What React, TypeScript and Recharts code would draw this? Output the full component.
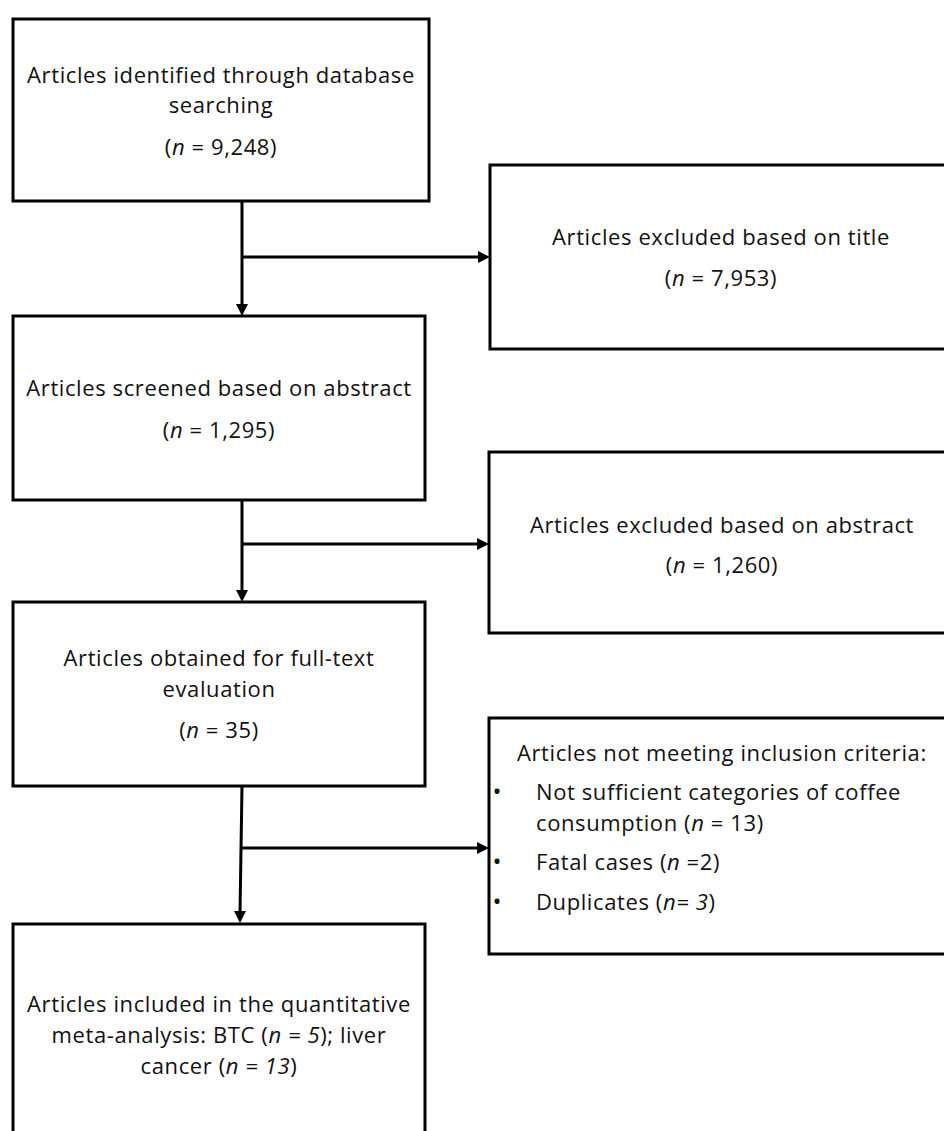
import { ComposedChart, XAxis, YAxis, Scatter, ReferenceArea, ReferenceLine } from 'recharts';

// flowchart laid out in pixel units of the chart (x: 0-944, y: 0-1131 top-down)
const boxes = [
  { id: 'identified', x1: 13, x2: 429, y1: 19, y2: 201 },
  { id: 'excludedTitle', x1: 490, x2: 952, y1: 165, y2: 349 },
  { id: 'screened', x1: 13, x2: 425, y1: 316, y2: 500 },
  { id: 'excludedAbstract', x1: 489, x2: 952, y1: 452, y2: 633 },
  { id: 'fullText', x1: 13, x2: 425, y1: 602, y2: 786 },
  { id: 'notMeeting', x1: 489, x2: 952, y1: 718, y2: 954 },
  { id: 'included', x1: 13, x2: 425, y1: 924, y2: 1140 },
];

const connectors = [
  { from: { x: 242, y: 201 }, to: { x: 242, y: 306 } },
  { from: { x: 242, y: 257 }, to: { x: 479, y: 257 } },
  { from: { x: 242, y: 500 }, to: { x: 242, y: 592 } },
  { from: { x: 242, y: 544 }, to: { x: 478, y: 544 } },
  { from: { x: 242, y: 786 }, to: { x: 240, y: 913 } },
  { from: { x: 240, y: 848 }, to: { x: 478, y: 848 } },
];

const arrowHeads = [
  { x: 242, y: 316, dir: 'down' },
  { x: 490, y: 257, dir: 'right' },
  { x: 242, y: 602, dir: 'down' },
  { x: 489, y: 544, dir: 'right' },
  { x: 240, y: 923, dir: 'down' },
  { x: 489, y: 848, dir: 'right' },
];

// *...* marks italic runs
const textLines = [
  { x: 221, y: 75, text: 'Articles identified through database', anchor: 'middle' },
  { x: 221, y: 105, text: 'searching', anchor: 'middle' },
  { x: 221, y: 147, text: '(*n* = 9,248)', anchor: 'middle' },
  { x: 721, y: 237, text: 'Articles excluded based on title', anchor: 'middle' },
  { x: 721, y: 278, text: '(*n* = 7,953)', anchor: 'middle' },
  { x: 219, y: 388, text: 'Articles screened based on abstract', anchor: 'middle' },
  { x: 219, y: 430, text: '(*n* = 1,295)', anchor: 'middle' },
  { x: 722, y: 525, text: 'Articles excluded based on abstract', anchor: 'middle' },
  { x: 722, y: 565, text: '(*n* = 1,260)', anchor: 'middle' },
  { x: 219, y: 658, text: 'Articles obtained for full-text', anchor: 'middle' },
  { x: 219, y: 689, text: 'evaluation', anchor: 'middle' },
  { x: 219, y: 730, text: '(*n* = 35)', anchor: 'middle' },
  { x: 517, y: 753, text: 'Articles not meeting inclusion criteria:', anchor: 'start' },
  { x: 497, y: 792, text: '•', anchor: 'middle' },
  { x: 536, y: 792, text: 'Not sufficient categories of coffee', anchor: 'start' },
  { x: 536, y: 823, text: 'consumption (*n* = 13)', anchor: 'start' },
  { x: 497, y: 862, text: '•', anchor: 'middle' },
  { x: 536, y: 862, text: 'Fatal cases (*n* =2)', anchor: 'start' },
  { x: 497, y: 902, text: '•', anchor: 'middle' },
  { x: 536, y: 902, text: 'Duplicates (*n= 3*)', anchor: 'start' },
  { x: 219, y: 1004, text: 'Articles included in the quantitative', anchor: 'middle' },
  { x: 219, y: 1035, text: 'meta-analysis: BTC (*n = 5*); liver', anchor: 'middle' },
  { x: 219, y: 1066, text: 'cancer (*n = 13*)', anchor: 'middle' },
];

const FONT = '"Open Sans", "Noto Sans", sans-serif';

const ArrowHead = (props: any) => {
  const { cx, cy, payload } = props;
  const d =
    payload.dir === 'down'
      ? `M${cx},${cy} L${cx - 6},${cy - 12} L${cx + 6},${cy - 12} Z`
      : `M${cx},${cy} L${cx - 12},${cy - 6} L${cx - 12},${cy + 6} Z`;
  return <path d={d} fill="#000" />;
};

const TextLine = (props: any) => {
  const { cx, cy, payload } = props;
  const parts = payload.text.split('*');
  const bullet = payload.text === '•';
  return (
    <text
      x={cx}
      y={cy + 8}
      textAnchor={payload.anchor}
      fontFamily={FONT}
      fontSize={bullet ? 24 : 22}
      letterSpacing={bullet ? 0 : 0.6}
      fill="#111"
    >
      {parts.map((p: string, i: number) => (
        <tspan key={i} fontStyle={i % 2 === 1 ? 'italic' : 'normal'}>
          {p}
        </tspan>
      ))}
    </text>
  );
};

export default function App() {
  return (
    <div style={{ position: 'absolute', left: 0, top: 0, background: '#fff' }}>
      <ComposedChart width={944} height={1131} margin={{ top: 0, right: 0, bottom: 0, left: 0 }}>
        <XAxis type="number" dataKey="x" domain={[0, 944]} allowDataOverflow hide />
        <YAxis type="number" dataKey="y" domain={[0, 1131]} reversed allowDataOverflow hide />
        {boxes.map((b) => (
          <ReferenceArea
            key={b.id}
            x1={b.x1}
            x2={b.x2}
            y1={b.y1}
            y2={b.y2}
            ifOverflow="visible"
            fill="none"
            stroke="#000"
            strokeWidth={3}
            fillOpacity={0}
          />
        ))}
        {connectors.map((c, i) => (
          <ReferenceLine
            key={i}
            segment={[c.from, c.to]}
            stroke="#000"
            strokeWidth={3}
            ifOverflow="visible"
          />
        ))}
        <Scatter data={arrowHeads} shape={ArrowHead} isAnimationActive={false} />
        <Scatter data={textLines} shape={TextLine} isAnimationActive={false} />
      </ComposedChart>
    </div>
  );
}
